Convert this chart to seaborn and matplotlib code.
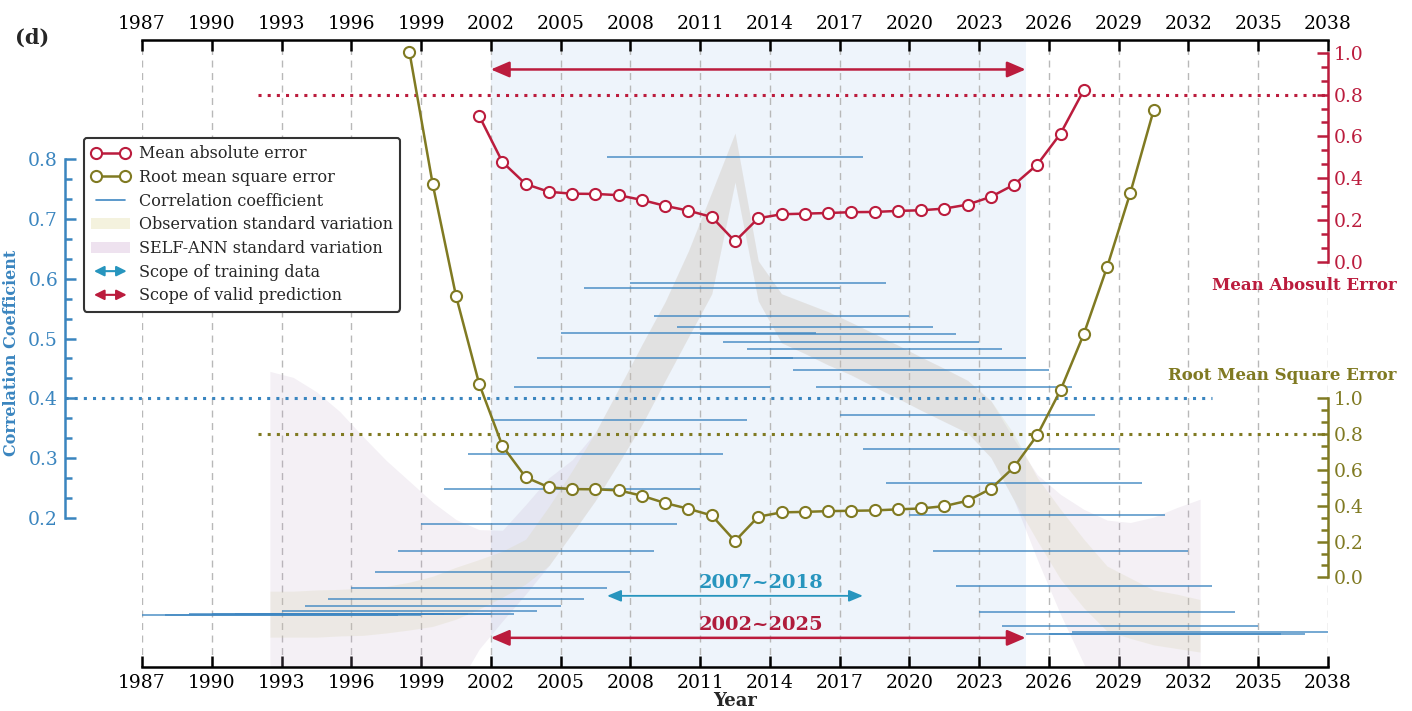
import numpy as np
import matplotlib
matplotlib.use("Agg")
import matplotlib.pyplot as plt
import seaborn as sns
from matplotlib.lines import Line2D
from matplotlib.patches import Patch, FancyArrowPatch
from matplotlib.legend_handler import HandlerBase
from matplotlib.ticker import FixedLocator

# ---------------- data ----------------
mae_years = np.arange(2001.5, 2028.0, 1.0)
mae_values = [0.698, 0.478, 0.373, 0.336, 0.327, 0.326, 0.320, 0.297, 0.269,
              0.246, 0.216, 0.100, 0.210, 0.229, 0.232, 0.235, 0.239, 0.240,
              0.245, 0.248, 0.256, 0.275, 0.312, 0.370, 0.466, 0.614, 0.821]

rmse_years = np.arange(1998.5, 2031.0, 1.0)
rmse_values = [2.933, 2.196, 1.573, 1.080, 0.734, 0.559, 0.503, 0.493, 0.492,
               0.486, 0.456, 0.415, 0.383, 0.346, 0.203, 0.339, 0.363, 0.366,
               0.370, 0.372, 0.374, 0.380, 0.385, 0.398, 0.428, 0.495, 0.616,
               0.795, 1.046, 1.359, 1.732, 2.147, 2.607]

# correlation coefficient of each 11-year training window
window_start = np.arange(1987, 2028)
window_end = window_start + 11
corr_values = [0.037, 0.037, 0.038, 0.038, 0.038, 0.038, 0.044, 0.052, 0.064,
               0.082, 0.109, 0.144, 0.190, 0.248, 0.307, 0.363, 0.419, 0.467,
               0.509, 0.585, 0.804, 0.593, 0.538, 0.520, 0.508, 0.495, 0.482,
               0.468, 0.447, 0.419, 0.372, 0.315, 0.258, 0.204, 0.145, 0.085,
               0.042, 0.018, 0.006, 0.005, 0.009]

band_years = np.arange(1992.5, 2033.0, 1.0)
obs_high = [0.077, 0.077, 0.079, 0.080, 0.082, 0.085, 0.092, 0.102, 0.117, 0.130,
            0.144, 0.164, 0.219, 0.279, 0.343, 0.416, 0.490, 0.562, 0.647, 0.745,
            0.844,
            0.630, 0.575, 0.560, 0.545, 0.527, 0.508, 0.489, 0.469, 0.450, 0.430,
            0.396, 0.340, 0.267, 0.214, 0.164, 0.119, 0.099, 0.079, 0.072, 0.063]
obs_low = [0.000, 0.000, 0.000, 0.002, 0.003, 0.007, 0.012, 0.018, 0.030, 0.047,
           0.067, 0.089, 0.120, 0.174, 0.229, 0.292, 0.356, 0.430, 0.503, 0.575,
           0.762,
           0.563, 0.493, 0.475, 0.456, 0.439, 0.419, 0.400, 0.380, 0.361, 0.342,
           0.301, 0.229, 0.161, 0.097, 0.049, 0.010, -0.002, -0.013, -0.019, -0.025]
ann_high = [0.445, 0.435, 0.411, 0.378, 0.336, 0.296, 0.261, 0.226, 0.197, 0.180,
            0.179, 0.222, 0.267, 0.297, 0.343, 0.416, 0.490, 0.562, 0.647, 0.745,
            0.844,
            0.630, 0.575, 0.560, 0.545, 0.527, 0.508, 0.489, 0.469, 0.450, 0.430,
            0.396, 0.331, 0.272, 0.239, 0.214, 0.196, 0.192, 0.201, 0.217, 0.231]
ann_low = [-0.137, -0.137, -0.137, -0.137, -0.137, -0.137, -0.137, -0.129, -0.087, -0.020,
           0.027, 0.072, 0.120, 0.174, 0.229, 0.292, 0.356, 0.430, 0.503, 0.575,
           0.762,
           0.563, 0.493, 0.475, 0.456, 0.439, 0.419, 0.400, 0.380, 0.361, 0.342,
           0.301, 0.229, 0.130, 0.038, -0.045, -0.137, -0.137, -0.137, -0.137, -0.137]

year_ticks = list(range(1987, 2039, 3))
corr_ticks = [0.2, 0.3, 0.4, 0.5, 0.6, 0.7, 0.8]
err_ticks = [0.0, 0.2, 0.4, 0.6, 0.8, 1.0]
corr_threshold = 0.4
mae_threshold = 0.8
rmse_threshold = 0.8
train_span = (2007, 2018)
valid_span = (2002, 2025)
threshold_start = 1992
corr_threshold_end = 2033

# ---------------- style ----------------
sns.set_style("white")
plt.rcParams['font.family'] = ['DejaVu Serif']
plt.rcParams['mathtext.fontset'] = 'dejavuserif'

RED = '#bb1c3d'
OLIVE = '#807a22'
BLUE = '#3a85bf'
CYAN = '#2795be'
SEG = '#3f87c2'

W, H = 1412, 711
fig = plt.figure(figsize=(W / 100, H / 100), dpi=100)
ax = fig.add_axes([142 / W, 1 - 667 / H, (1328 - 142) / W, (667 - 40) / H])
ax_mae = ax.twinx()
ax_rmse = ax.twinx()

# background span
ax.axvspan(valid_span[0], valid_span[1], color='#eef4fb', zorder=0, lw=0)

# bands
ax.fill_between(band_years, ann_low, ann_high, color='#bea6c6', alpha=0.17, lw=0, zorder=1)
ax.fill_between(band_years, obs_low, obs_high, color='#d4d0a8', alpha=0.22, lw=0, zorder=1)

# correlation segments
ax.hlines(corr_values, window_start, window_end, color=SEG, lw=1.2, alpha=0.85, zorder=2)

# threshold lines
dot = (0, (1, 2))
ax.axhline(corr_threshold, xmin=-77 / 1186, xmax=(corr_threshold_end - 1987) / 51,
           color=BLUE, lw=2.2, ls=dot, clip_on=False, zorder=3, dash_capstyle='butt')
ax_mae.axhline(mae_threshold, xmin=(threshold_start - 1987) / 51, xmax=1,
               color=RED, lw=2.2, ls=dot, zorder=3, dash_capstyle='butt')
ax_rmse.axhline(rmse_threshold, xmin=(threshold_start - 1987) / 51, xmax=1,
                color=OLIVE, lw=2.2, ls=dot, zorder=3, dash_capstyle='butt')

# error lines
sns.lineplot(x=mae_years, y=mae_values, ax=ax_mae, color=RED, lw=1.8, marker='o',
             markersize=8, markerfacecolor='white', markeredgecolor=RED,
             markeredgewidth=1.5, zorder=5)
sns.lineplot(x=rmse_years, y=rmse_values, ax=ax_rmse, color=OLIVE, lw=1.8, marker='o',
             markersize=8, markerfacecolor='white', markeredgecolor=OLIVE,
             markeredgewidth=1.5, zorder=5)

# limits
for a in (ax, ax_mae, ax_rmse):
    a.set_xlim(1987, 2038)
ax.set_ylim(-0.05, 1.0)
ax_mae.set_ylim(-1.93, 1.06)
ax_rmse.set_ylim(-0.5, 3.0)

# grid
ax.set_xticks(year_ticks)
ax.grid(axis='x', color='#b8b8b8', linestyle=(0, (5, 4)), linewidth=1.0)
ax.grid(axis='y', visible=False)

# spines
for s in ('top', 'bottom'):
    ax.spines[s].set_linewidth(1.8)
    ax.spines[s].set_color('black')
ax.spines['right'].set_visible(False)
ax.spines['left'].set_position(('outward', 55.4))
ax.spines['left'].set_bounds(0.2, 0.8)
ax.spines['left'].set_color(BLUE)
ax.spines['left'].set_linewidth(1.8)

for a, col in ((ax_mae, RED), (ax_rmse, OLIVE)):
    for s in ('top', 'bottom', 'left'):
        a.spines[s].set_visible(False)
    a.spines['right'].set_bounds(0.0, 1.0)
    a.spines['right'].set_color(col)
    a.spines['right'].set_linewidth(1.8)
    a.set_yticks(err_ticks)
    a.set_yticklabels([f"{v:.1f}" for v in err_ticks])
    minors = [t + k * 0.2 / 3 for t in err_ticks[:-1] for k in (1, 2)]
    a.yaxis.set_minor_locator(FixedLocator(minors))
    a.tick_params(axis='y', which='both', direction='in', colors=col, width=1.8,
                  labelsize=13.5, pad=4)
    a.tick_params(axis='y', which='major', length=8)
    a.tick_params(axis='y', which='minor', length=5)
    a.set_ylabel('')

ax.set_yticks(corr_ticks)
ax.set_yticklabels([f"{v:.1f}" for v in corr_ticks])
cminors = [t + k * 0.1 / 3 for t in corr_ticks[:-1] for k in (1, 2)]
ax.yaxis.set_minor_locator(FixedLocator(cminors))
ax.tick_params(axis='y', which='both', direction='in', colors=BLUE, width=1.8,
               labelsize=13.5, pad=5)
ax.tick_params(axis='y', which='major', length=8)
ax.tick_params(axis='y', which='minor', length=5)

ax.tick_params(axis='x', which='major', direction='in', top=True, labeltop=True,
               bottom=True, labelbottom=True, length=8, width=1.8, labelsize=13.5,
               colors='black', pad=5)
ax.set_xlabel('Year', fontweight='bold', fontsize=13, labelpad=0)

# arrows & annotations
xax = ax_rmse.get_xaxis_transform()
arrow_red = dict(arrowstyle='<|-|>,head_length=0.7,head_width=0.3', color=RED,
                 lw=1.8, shrinkA=0, shrinkB=0, mutation_scale=16)
arrow_blue = dict(arrowstyle='<|-|>,head_length=0.6,head_width=0.25', color=CYAN,
                  lw=1.3, shrinkA=0, shrinkB=0, mutation_scale=14)
ax_rmse.annotate('', xy=(valid_span[1], 0.953), xytext=(valid_span[0], 0.953),
                 xycoords=xax, textcoords=xax, arrowprops=arrow_red, zorder=6)
ax_rmse.annotate('', xy=(valid_span[1], 0.0465), xytext=(valid_span[0], 0.0465),
                 xycoords=xax, textcoords=xax, arrowprops=arrow_red, zorder=6)
ax_rmse.annotate('', xy=(train_span[1], 0.1135), xytext=(train_span[0], 0.1135),
                 xycoords=xax, textcoords=xax, arrowprops=arrow_blue, zorder=6)
mid = 2013.6
ax_rmse.text(mid, 0.134, f"{train_span[0]}~{train_span[1]}", transform=xax,
             ha='center', va='center', color=CYAN, fontsize=14, fontweight='bold')
ax_rmse.text(mid, 0.067, f"{valid_span[0]}~{valid_span[1]}", transform=xax,
             ha='center', va='center', color='#b01c3c', fontsize=14, fontweight='bold')

# axis titles
fig.text(12 / W, 1 - 353 / H, 'Correlation Coefficient', rotation=90, ha='center',
         va='center', color=BLUE, fontsize=11.5, fontweight='bold')
fig.text(1304 / W, 1 - 285 / H, 'Mean Abosult Error', ha='center', va='center',
         color=RED, fontsize=12, fontweight='bold')
fig.text(1282 / W, 1 - 375 / H, 'Root Mean Square Error', ha='center', va='center',
         color=OLIVE, fontsize=12, fontweight='bold')
fig.text(15 / W, 1 - 38 / H, '(d)', ha='left', va='center', fontsize=15,
         fontweight='bold')


# legend
class HandlerDoubleArrow(HandlerBase):
    def create_artists(self, legend, orig_handle, xdescent, ydescent, width,
                       height, fontsize, trans):
        y = height / 2.0 - ydescent
        arr = FancyArrowPatch((-xdescent + 2, y), (-xdescent + width - 2, y),
                              arrowstyle='<|-|>,head_length=0.5,head_width=0.25',
                              mutation_scale=12, color=orig_handle.get_color(),
                              lw=1.5, shrinkA=0, shrinkB=0, transform=trans)
        return [arr]


h_mae = Line2D([], [], color=RED, lw=1.8, marker='o', markersize=8,
               markerfacecolor='white', markeredgecolor=RED, markeredgewidth=1.5)
h_rmse = Line2D([], [], color=OLIVE, lw=1.8, marker='o', markersize=8,
                markerfacecolor='white', markeredgecolor=OLIVE, markeredgewidth=1.5)
h_corr = Line2D([], [], color=SEG, lw=1.2)
h_obs = Patch(facecolor='#f4f2de', edgecolor='none')
h_ann = Patch(facecolor='#eee2ef', edgecolor='none')
h_train = Line2D([], [], color=CYAN)
h_valid = Line2D([], [], color=RED)

leg = fig.legend([h_mae, h_rmse, h_corr, h_obs, h_ann, h_train, h_valid],
                 ['Mean absolute error', 'Root mean square error',
                  'Correlation coefficient', 'Observation standard variation',
                  'SELF-ANN standard variation', 'Scope of training data',
                  'Scope of valid prediction'],
                 loc='upper left', bbox_to_anchor=(84 / W, 1 - 138 / H),
                 borderaxespad=0, numpoints=2,
                 fontsize=11.5, handlelength=2.4, handletextpad=0.6,
                 borderpad=0.45, labelspacing=0.42, frameon=True, fancybox=True,
                 framealpha=1, edgecolor='#333333',
                 handler_map={h_train: HandlerDoubleArrow(),
                              h_valid: HandlerDoubleArrow()})
leg.get_frame().set_linewidth(1.5)

fig.savefig('out.png', dpi=100)
